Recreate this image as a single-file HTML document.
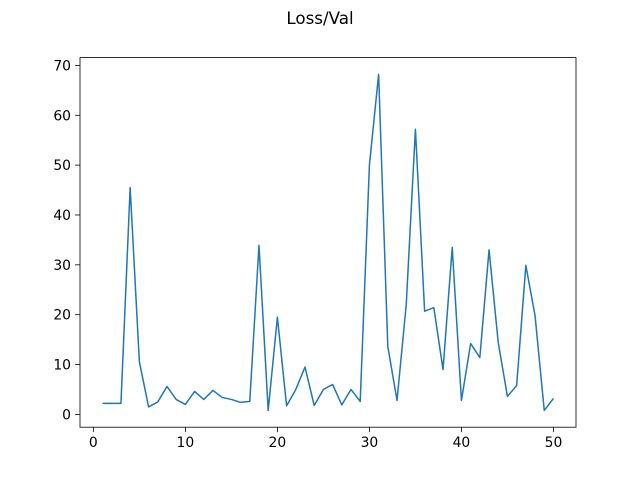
<!DOCTYPE html>
<html><head><meta charset="utf-8"><style>
html,body{margin:0;padding:0;background:#fff;}
svg{display:block;font-family:"DejaVu Sans","Liberation Sans",sans-serif;}
</style></head><body>
<svg id="chart" width="640" height="480" viewBox="0 0 640 480">
<rect width="640" height="480" fill="#fff"/>
<text x="320" y="24" text-anchor="middle" font-size="16.7">Loss/Val</text>
<g id="xt"></g>
<g id="yt"></g>
<path id="line" fill="none" stroke="#1f77b4" stroke-width="1.5" stroke-linejoin="round"/>
<rect x="80" y="57.6" width="496" height="369.6" fill="none" stroke="#000" stroke-width="0.8"/>
</svg>
<script>
const steps = Array.from({length:50},(_, i)=>i+1);
const values = [2.2,2.2,2.2,45.5,10.6,1.5,2.5,5.6,3.0,2.0,4.6,3.0,4.8,3.4,3.0,2.4,2.6,33.9,0.8,19.5,1.7,5.0,9.5,1.8,5.0,6.0,1.9,5.0,2.6,50.0,68.2,13.6,2.8,22.0,57.2,20.7,21.4,9.0,33.5,2.8,14.2,11.4,33.0,14.4,3.6,5.8,29.9,19.8,0.8,3.2];
const xTicks = [0,10,20,30,40,50];
const yTicks = [0,10,20,30,40,50,60,70];

const L=80,R=576,T=57.6,B=427.2;
const xmin=Math.min(...steps),xmax=Math.max(...steps),xm=(xmax-xmin)*0.05;
const ymin=Math.min(...values),ymax=Math.max(...values),ym=(ymax-ymin)*0.05;
const X=v=>L+(v-(xmin-xm))/((xmax+xm)-(xmin-xm))*(R-L);
const Y=v=>B-(v-(ymin-ym))/((ymax+ym)-(ymin-ym))*(B-T);
const NS="http://www.w3.org/2000/svg";
function mk(tag,attrs,parent){const e=document.createElementNS(NS,tag);for(const k in attrs)e.setAttribute(k,attrs[k]);parent.appendChild(e);return e;}
const line=document.getElementById('line');
line.setAttribute('d',steps.map((s,i)=>(i?'L':'M')+X(s).toFixed(2)+','+Y(values[i]).toFixed(2)).join(''));
const xt=document.getElementById('xt'),yt=document.getElementById('yt');
xTicks.forEach(t=>{
  const l=mk('line',{x1:X(t),x2:X(t),y1:B,y2:B+4.9,stroke:'#000','stroke-width':0.8},xt);
  
  
  const tx=mk('text',{x:X(t),y:B+20,'text-anchor':'middle','font-size':13.9},xt);
  tx.textContent=t;
  
  
});
yTicks.forEach(t=>{
  const l=mk('line',{x1:L-4.9,x2:L,y1:Y(t),y2:Y(t),stroke:'#000','stroke-width':0.8},yt);
  
  
  const tx=mk('text',{x:L-9,y:Y(t)+5,'text-anchor':'end','font-size':13.9},yt);
  tx.textContent=t;
  
  
});
</script>
</body></html>
